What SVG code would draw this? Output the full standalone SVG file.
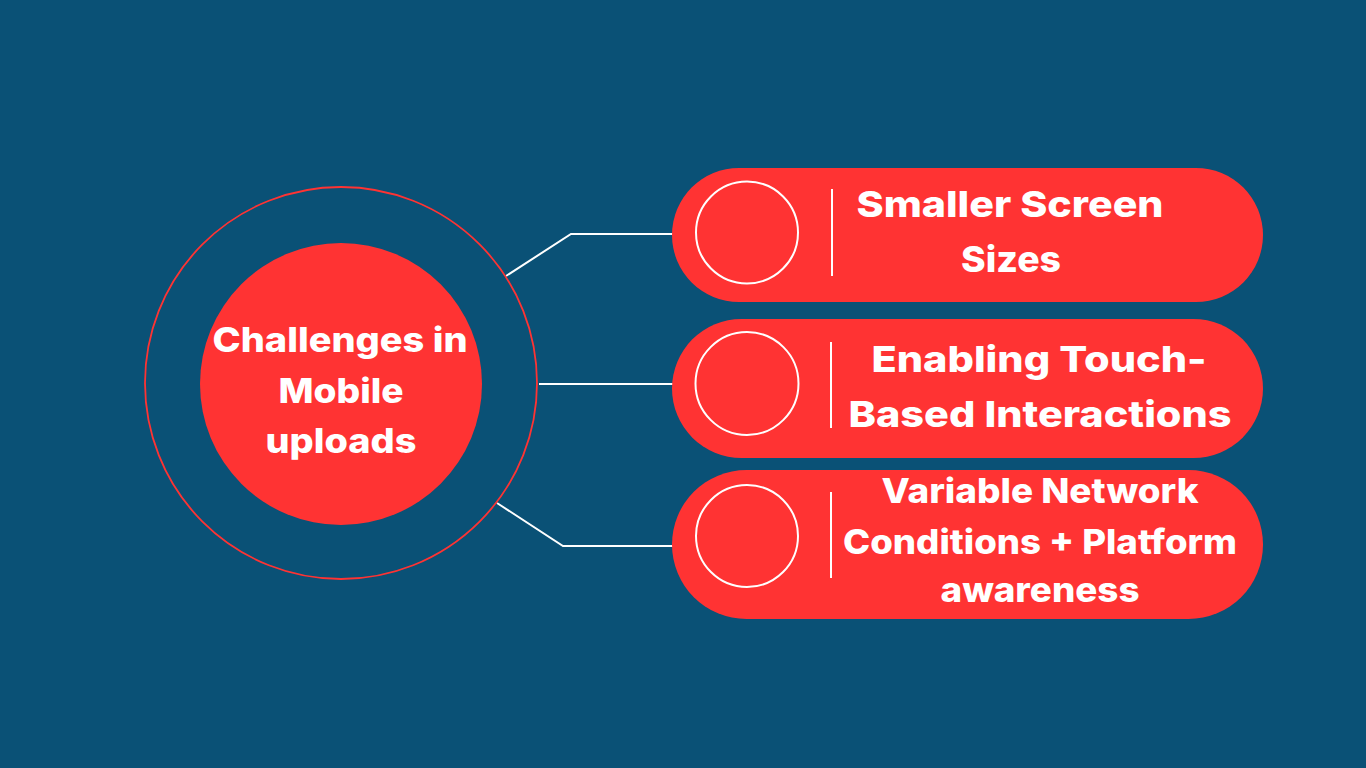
<svg xmlns="http://www.w3.org/2000/svg" width="1366" height="768" viewBox="0 0 1366 768">
<style>
.bg{fill:#0a5176}
.pill{fill:#ff3333}
.ring{fill:none;stroke:#ffffff;stroke-width:2}
.div{stroke:#ffffff;stroke-width:2}
.conn{fill:none;stroke:#ffffff;stroke-width:2}
.t{font-family:"Inter","Open Sans","Liberation Sans",sans-serif;font-weight:800;fill:#ffffff;text-anchor:middle}
</style>
<rect class="bg" x="0" y="0" width="1366" height="768"/>
<g id="connectors">
<polyline class="conn" points="506,276 571,234 673,234"/>
<line class="conn" x1="539" y1="384" x2="673" y2="384"/>
<polyline class="conn" points="497,503 563,546 673,546"/>
</g>
<g id="center">
<circle cx="341" cy="383" r="196" fill="none" stroke="#ff3333" stroke-width="1.8"/>
<circle cx="341" cy="384" r="141" fill="#ff3333"/>
<text class="t" font-size="34" x="340" y="352" textLength="255" lengthAdjust="spacingAndGlyphs">Challenges in</text>
<text class="t" font-size="34" x="341" y="403" textLength="125" lengthAdjust="spacingAndGlyphs">Mobile</text>
<text class="t" font-size="34" x="341" y="453" textLength="151" lengthAdjust="spacingAndGlyphs">uploads</text>
</g>
<g id="node1">
<rect class="pill" x="672" y="168" width="591" height="134" rx="67"/>
<circle class="ring" cx="747" cy="232.5" r="51"/>
<line class="div" x1="832" y1="189" x2="832" y2="276"/>
<text class="t" font-size="36" x="1010" y="217" textLength="307" lengthAdjust="spacingAndGlyphs">Smaller Screen</text>
<text class="t" font-size="36" x="1011" y="272" textLength="100" lengthAdjust="spacingAndGlyphs">Sizes</text>
</g>
<g id="node2">
<rect class="pill" x="672" y="319" width="591" height="139" rx="69.5"/>
<circle class="ring" cx="747" cy="383.5" r="51.5"/>
<line class="div" x1="831" y1="342" x2="831" y2="428"/>
<text class="t" font-size="36" x="1039" y="372" textLength="335" lengthAdjust="spacingAndGlyphs">Enabling Touch-</text>
<text class="t" font-size="36" x="1040" y="427" textLength="383" lengthAdjust="spacingAndGlyphs">Based Interactions</text>
</g>
<g id="node3">
<rect class="pill" x="672" y="470" width="591" height="149" rx="74.5"/>
<circle class="ring" cx="747" cy="536" r="51"/>
<line class="div" x1="831" y1="492" x2="831" y2="578"/>
<text class="t" font-size="34" x="1040" y="503" textLength="317" lengthAdjust="spacingAndGlyphs">Variable Network</text>
<text class="t" font-size="34" x="1040" y="554" textLength="394" lengthAdjust="spacingAndGlyphs">Conditions + Platform</text>
<text class="t" font-size="34" x="1040" y="602" textLength="199" lengthAdjust="spacingAndGlyphs">awareness</text>
</g>
</svg>
